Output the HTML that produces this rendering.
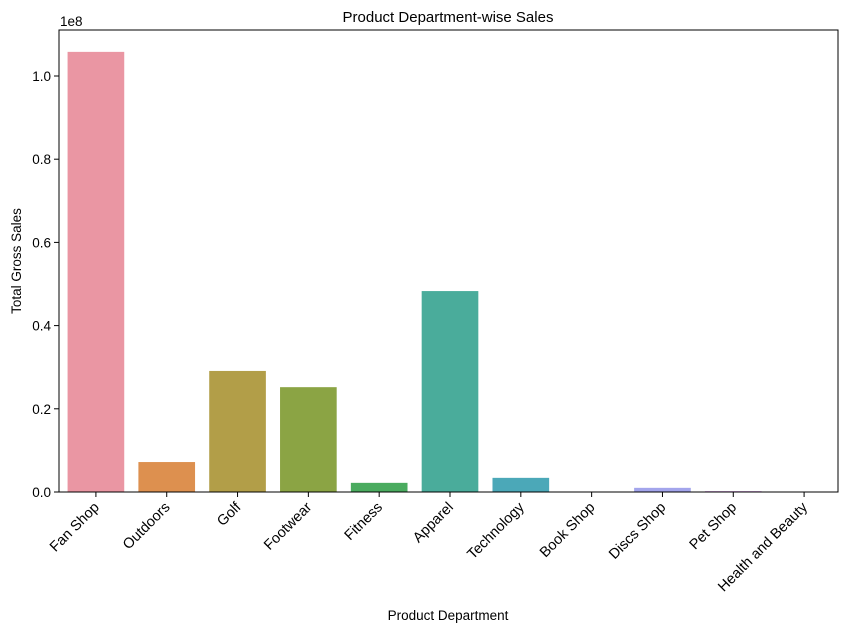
<!DOCTYPE html>
<html><head><meta charset="utf-8"><style>
body{margin:0;background:#fff;}
svg text{font-family:"Liberation Sans","DejaVu Sans",sans-serif;fill:#000;}
</style></head><body>
<svg id="chart" width="846" height="633" xmlns="http://www.w3.org/2000/svg">
<rect x="0" y="0" width="846" height="633" fill="#fff"/>
<text x="448" y="22" font-size="15" text-anchor="middle">Product Department-wise Sales</text>
<text x="448" y="620" font-size="13.5" text-anchor="middle">Product Department</text>
<text transform="translate(21,261) rotate(-90)" font-size="13.5" text-anchor="middle">Total Gross Sales</text>
<text x="60" y="26" font-size="13.5">1e8</text>
<g id="bars"></g><g id="axes"></g>
<rect x="59" y="30" width="779" height="462" fill="none" stroke="#000" stroke-width="1"/>
</svg>
<script>
const categories=["Fan Shop","Outdoors","Golf","Footwear","Fitness","Apparel","Technology","Book Shop","Discs Shop","Pet Shop","Health and Beauty"];
const sales=[1.058e8,0.072e8,0.291e8,0.252e8,0.022e8,0.483e8,0.034e8,0.0003e8,0.010e8,0.002e8,0.001e8];
const colors=["#ea96a3","#dd904f","#b29e48","#8ba444","#4aab5f","#4aac9b","#4ba8b8","#5aa4d6","#a3a5ec","#d08fe4","#e58fca"];
const yTicks=[0,0.2e8,0.4e8,0.6e8,0.8e8,1.0e8];
const yTickLabels=["0.0","0.2","0.4","0.6","0.8","1.0"];
const L=59,R=838,T=30,B=492;
const NS="http://www.w3.org/2000/svg";
const y=v=>B-v/1e8*416;
const bw=(R-L)/categories.length;
const x=i=>L+1.5+bw*(i+0.5);
const bars=document.getElementById('bars'),axes=document.getElementById('axes');
function mk(tag,attrs,parent){const e=document.createElementNS(NS,tag);for(const k in attrs)e.setAttribute(k,attrs[k]);parent.appendChild(e);return e;}
categories.forEach((c,i)=>{
 const r=mk('rect',{x:x(i)-bw*0.4,y:y(sales[i]),width:bw*0.8,height:B-y(sales[i]),fill:colors[i]},bars);
 
 
 const t=mk('line',{x1:x(i),x2:x(i),y1:B,y2:B+5,stroke:'#000'},axes);
 
 
 const lb=mk('text',{transform:`translate(${x(i)+4},${B+16}) rotate(-45)`,'font-size':'14.5','text-anchor':'end'},axes);
 lb.textContent=c;
 
 
});
yTicks.forEach((v,i)=>{
 const t=mk('line',{x1:L-5,x2:L,y1:y(v),y2:y(v),stroke:'#000'},axes);
 
 
 const lb=mk('text',{x:L-8,y:y(v)+5,'font-size':'13.5','text-anchor':'end'},axes);
 lb.textContent=yTickLabels[i];
 
 
});
</script>
</body></html>
